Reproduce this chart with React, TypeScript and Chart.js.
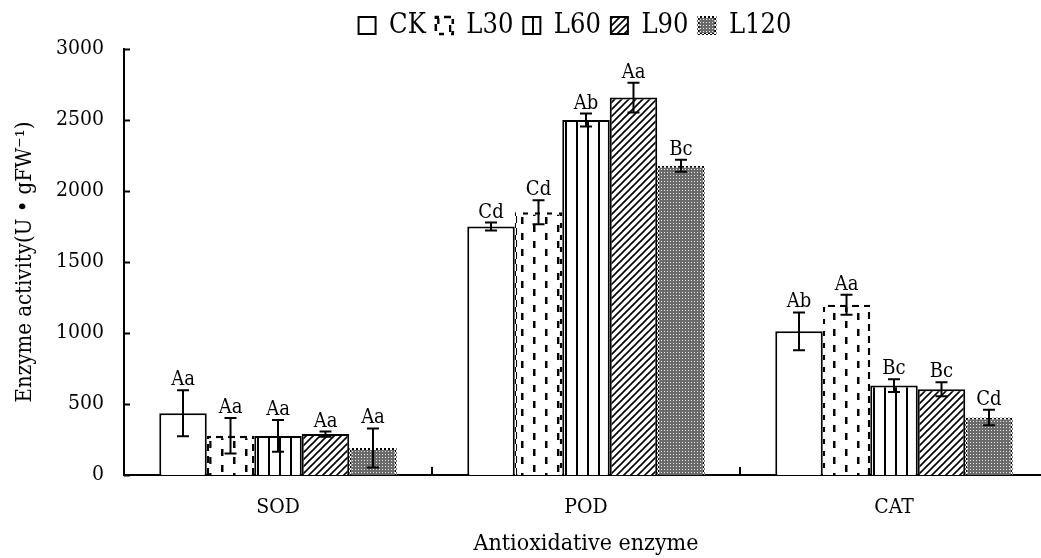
import React, { useEffect, useRef } from "react";
import { Chart, registerables } from "chart.js";

Chart.register(...registerables);

// Enzyme groups on the category axis
const categories = ["SOD", "POD", "CAT"];

// Treatment means (U·gFW⁻¹) and standard errors
const treatments = ["CK", "L30", "L60", "L90", "L120"];
const ckValues = [435, 1750, 1012];
const ckErrors = [162, 28, 133];
const l30Values = [276, 1850, 1199];
const l30Errors = [125, 85, 70];
const l60Values = [275, 2500, 630];
const l60Errors = [112, 45, 45];
const l90Values = [288, 2658, 604];
const l90Errors = [18, 105, 50];
const l120Values = [190, 2178, 405];
const l120Errors = [138, 42, 55];

// Significance letters shown above each bar
const ckLetters = ["Aa", "Cd", "Ab"];
const l30Letters = ["Aa", "Cd", "Aa"];
const l60Letters = ["Aa", "Ab", "Bc"];
const l90Letters = ["Aa", "Aa", "Bc"];
const l120Letters = ["Aa", "Bc", "Cd"];

// Y axis ticks
const yTicks = [0, 500, 1000, 1500, 2000, 2500, 3000];

const FONT = "'DejaVu Serif Condensed', 'Liberation Serif', serif";

function tile(w: number, h: number, paint: (c: CanvasRenderingContext2D) => void) {
  const cv = document.createElement("canvas");
  cv.width = w;
  cv.height = h;
  const c = cv.getContext("2d")!;
  paint(c);
  return c.createPattern(cv, "repeat")!;
}

function makePatterns() {
  const white = "#ffffff";
  const dashFill = tile(24, 16, (c) => {
    c.fillStyle = white;
    c.fillRect(0, 0, 24, 16);
    c.fillStyle = "#000";
    c.fillRect(5, 1, 2.5, 7);
    c.fillRect(17, 9, 2.5, 7);
  });
  const dashBorder = tile(12, 12, (c) => {
    c.fillStyle = white;
    c.fillRect(0, 0, 12, 12);
    c.fillStyle = "#000";
    c.fillRect(0, 0, 7, 7);
    c.fillRect(7, 7, 5, 5);
  });
  const stripes = tile(11, 4, (c) => {
    c.fillStyle = white;
    c.fillRect(0, 0, 11, 4);
    c.fillStyle = "#000";
    c.fillRect(4, 0, 2, 4);
  });
  const hatch = tile(7, 7, (c) => {
    c.fillStyle = white;
    c.fillRect(0, 0, 7, 7);
    c.strokeStyle = "#000";
    c.lineWidth = 1.6;
    c.beginPath();
    c.moveTo(-1, 8);
    c.lineTo(8, -1);
    c.moveTo(-1, 1);
    c.lineTo(1, -1);
    c.moveTo(6, 8);
    c.lineTo(8, 6);
    c.stroke();
  });
  const dots = tile(3, 3, (c) => {
    c.fillStyle = "#6a6a6a";
    c.fillRect(0, 0, 3, 3);
    c.fillStyle = "#e8e8e8";
    c.fillRect(1, 1, 1, 1);
  });
  const dotBorder = tile(4, 4, (c) => {
    c.fillStyle = "#ffffff";
    c.fillRect(0, 0, 4, 4);
    c.fillStyle = "#000";
    c.fillRect(0, 0, 2, 2);
    c.fillRect(2, 2, 2, 2);
  });
  return { dashFill, dashBorder, stripes, hatch, dots, dotBorder };
}

const errorBarPlugin = {
  id: "errorBars",
  afterDatasetsDraw(chart: any) {
    const ctx = chart.ctx;
    const y = chart.scales.y;
    chart.data.datasets.forEach((ds: any, i: number) => {
      const meta = chart.getDatasetMeta(i);
      meta.data.forEach((bar: any, j: number) => {
        const v = ds.data[j];
        const e = ds.errors[j];
        const top = y.getPixelForValue(v + e);
        const bot = y.getPixelForValue(v - e);
        const x = bar.x;
        ctx.save();
        ctx.strokeStyle = "#000";
        ctx.lineWidth = 2;
        ctx.beginPath();
        ctx.moveTo(x, top);
        ctx.lineTo(x, bot);
        ctx.moveTo(x - 6, top);
        ctx.lineTo(x + 6, top);
        ctx.moveTo(x - 6, bot);
        ctx.lineTo(x + 6, bot);
        ctx.stroke();
        ctx.fillStyle = "#000";
        ctx.font = `20px ${FONT}`;
        ctx.textAlign = "center";
        ctx.textBaseline = "alphabetic";
        ctx.fillText(ds.letters[j], x, top - 5);
        ctx.restore();
      });
    });
  },
};

const innerTicksPlugin = {
  id: "innerTicks",
  afterDraw(chart: any) {
    const ctx = chart.ctx;
    const { left, bottom } = chart.chartArea;
    const y = chart.scales.y;
    const x = chart.scales.x;
    ctx.save();
    ctx.strokeStyle = "#000";
    ctx.lineWidth = 2;
    ctx.beginPath();
    y.ticks.forEach((_t: any, i: number) => {
      const py = Math.round(y.getPixelForTick(i)) + 0.5;
      ctx.moveTo(left, py);
      ctx.lineTo(left + 6, py);
    });
    const step = x.getPixelForValue(1) - x.getPixelForValue(0);
    for (let i = 1; i <= categories.length; i++) {
      const px = Math.round(x.getPixelForValue(i) - step / 2);
      ctx.moveTo(px, bottom);
      ctx.lineTo(px, bottom - 8);
    }
    ctx.stroke();
    ctx.restore();
  },
};

export default function App() {
  const ref = useRef<HTMLCanvasElement>(null);

  useEffect(() => {
    const p = makePatterns();
    const base = { borderWidth: 2, borderSkipped: "start" as const, yAxisID: "y" };
    const chart = new Chart(ref.current!, {
      type: "bar",
      data: {
        labels: categories,
        datasets: [
          { ...base, label: treatments[0], data: ckValues, errors: ckErrors, letters: ckLetters, backgroundColor: "#ffffff", borderColor: "#000" },
          { ...base, label: treatments[1], data: l30Values, errors: l30Errors, letters: l30Letters, backgroundColor: p.dashFill, borderColor: p.dashBorder, borderWidth: 2.5 },
          { ...base, label: treatments[2], data: l60Values, errors: l60Errors, letters: l60Letters, backgroundColor: p.stripes, borderColor: "#000" },
          { ...base, label: treatments[3], data: l90Values, errors: l90Errors, letters: l90Letters, backgroundColor: p.hatch, borderColor: "#000" },
          { ...base, label: treatments[4], data: l120Values, errors: l120Errors, letters: l120Letters, backgroundColor: p.dots, borderColor: p.dotBorder },
        ] as any,
      },
      options: {
        responsive: false,
        animation: false,
        events: [],
        layout: { padding: { left: 0, right: 0, top: 2, bottom: 0 } },
        datasets: { bar: { categoryPercentage: 0.771, barPercentage: 1 } },
        plugins: {
          legend: {
            position: "top",
            labels: {
              font: { family: FONT, size: 27 },
              color: "#000",
              boxWidth: 17,
              boxHeight: 17,
              padding: 10,
            },
          },
          tooltip: { enabled: false },
        },
        scales: {
          x: {
            grid: { display: false, drawTicks: false },
            border: { display: true, color: "#000", width: 2 },
            ticks: { color: "#000", font: { family: FONT, size: 21 }, padding: 20 },
            title: {
              display: true,
              text: "Antioxidative enzyme",
              color: "#000",
              font: { family: FONT, size: 23 },
              padding: { top: 12, bottom: 0 },
            },
            afterFit(scale: any) {
              scale.height = 83;
            },
          },
          y: {
            min: 0,
            max: 3000,
            afterBuildTicks(scale: any) {
              scale.ticks = yTicks.map((v) => ({ value: v }));
            },
            grid: { display: false, drawTicks: false },
            border: { display: true, color: "#000", width: 2 },
            ticks: {
              color: "#000",
              font: { family: FONT, size: 21 },
              padding: 20,
              callback: (v: any) => String(v),
            },
            title: {
              display: true,
              text: "Enzyme activity(U • gFW⁻¹)",
              color: "#000",
              font: { family: FONT, size: 22 },
              padding: { top: 12, bottom: 0 },
            },
            afterFit(scale: any) {
              scale.width = 124;
            },
          },
          // blank strip on the right so the legend centres over the wider canvas
          spacer: {
            type: "linear",
            position: "right",
            display: true,
            grid: { display: false, drawTicks: false },
            border: { display: false },
            ticks: { display: false },
            afterFit(scale: any) {
              scale.width = 102;
            },
          },
        },
      },
      plugins: [errorBarPlugin, innerTicksPlugin],
    });
    return () => chart.destroy();
  }, []);

  return (
    <div
      style={{
        position: "fixed",
        left: 0,
        top: 0,
        width: 1041,
        height: 558,
        overflow: "hidden",
        background: "#fff",
      }}
    >
      <canvas ref={ref} width={1150} height={558} style={{ width: 1150, height: 558, display: "block" }} />
    </div>
  );
}
